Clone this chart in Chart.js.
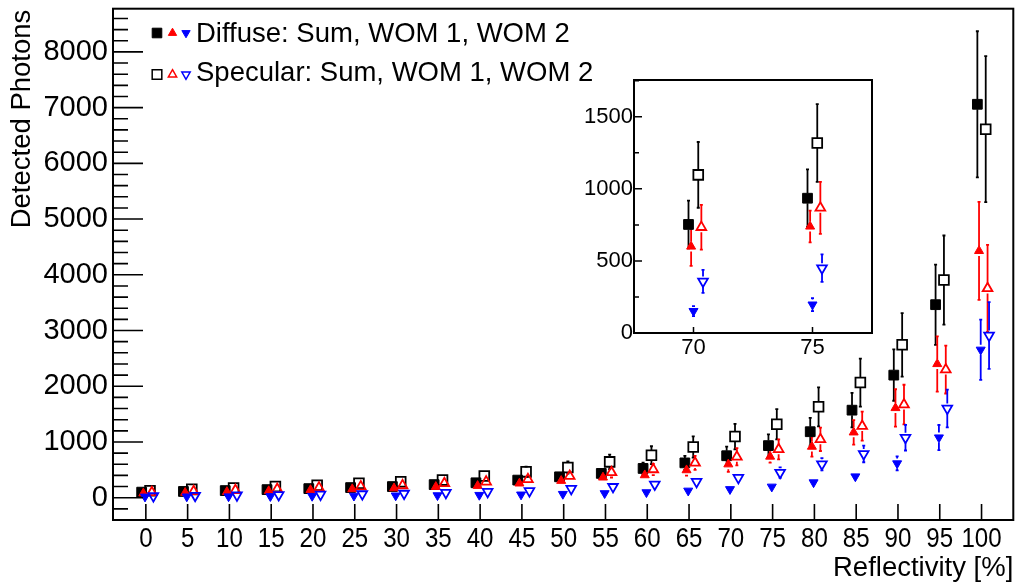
<!DOCTYPE html>
<html>
<head>
<meta charset="utf-8">
<script src="https://cdn.jsdelivr.net/npm/chart.js@4/dist/chart.umd.min.js"></script>
<style>
  html, body { margin: 0; padding: 0; background: #fff; }
  #wrap { position: relative; width: 1022px; height: 586px; overflow: hidden; }
  #main { position: absolute; left: 0; top: 0; }
  #inset { position: absolute; left: 560px; top: 70px; pointer-events: none; }
</style>
</head>
<body>
<div id="wrap">
  <canvas id="main" width="1022" height="586"></canvas>
  <canvas id="inset" width="330" height="290"></canvas>
</div>
<script>
// reflectivity in percent
const reflectivity = [0, 5, 10, 15, 20, 25, 30, 35, 40, 45, 50, 55, 60, 65, 70, 75, 80, 85, 90, 95, 100];

// diffuse reflector
const diffuseSum     = [100, 112, 128, 145, 163, 182, 200, 235, 268, 316, 375, 436, 525, 625, 753, 935, 1184, 1571, 2200, 3464, 7060];
const diffuseSumErr  = [20, 22, 26, 29, 33, 36, 40, 47, 54, 63, 75, 87, 105, 125, 165, 200, 250, 310, 460, 720, 1310];
const diffuseWom1    = [80, 90, 105, 120, 140, 155, 170, 196, 214, 257, 304, 364, 405, 495, 600, 739, 917, 1173, 1610, 2400, 4429];
const diffuseWom1Err = [16, 18, 21, 24, 28, 31, 34, 39, 43, 51, 61, 73, 81, 99, 135, 110, 180, 220, 336, 495, 880];
const diffuseWom2    = [18, 20, 22, 26, 30, 34, 38, 42, 48, 55, 66, 79, 96, 125, 152, 197, 274, 381, 615, 1080, 2655];
const diffuseWom2Err = [4, 4, 5, 5, 6, 7, 8, 8, 10, 11, 13, 16, 19, 25, 35, 45, 55, 75, 125, 225, 540];

// specular reflector
const specularSum     = [125, 150, 175, 200, 225, 260, 285, 316, 388, 464, 543, 643, 763, 911, 1097, 1318, 1631, 2066, 2744, 3905, 6613];
const specularSumErr  = [25, 30, 35, 40, 45, 52, 57, 63, 78, 93, 109, 129, 160, 190, 228, 270, 350, 430, 570, 800, 1310];
const specularWom1    = [95, 115, 135, 155, 180, 200, 220, 257, 286, 329, 388, 454, 507, 625, 734, 868, 1048, 1286, 1672, 2300, 3756];
const specularWom1Err = [19, 23, 27, 31, 36, 40, 44, 51, 57, 66, 78, 91, 101, 125, 155, 180, 210, 260, 355, 430, 780];
const specularWom2    = [30, 38, 44, 50, 58, 66, 75, 89, 107, 120, 161, 196, 239, 286, 358, 450, 601, 786, 1077, 1601, 2911];
const specularWom2Err = [6, 8, 9, 10, 12, 13, 15, 18, 21, 24, 32, 39, 48, 57, 80, 95, 110, 150, 230, 340, 600];

const xTicks = [0, 5, 10, 15, 20, 25, 30, 35, 40, 45, 50, 55, 60, 65, 70, 75, 80, 85, 90, 95, 100];
const yTicks = [0, 1000, 2000, 3000, 4000, 5000, 6000, 7000, 8000];
const insetXTicks = [70, 75];
const insetYTicks = [0, 500, 1000, 1500];
const legendLabels = ['Diffuse: Sum, WOM 1, WOM 2', 'Specular: Sum, WOM 1, WOM 2'];
const yTitle = 'Detected Photons';
const xTitle = 'Reflectivity [%]';

const FONT = '"Liberation Sans", Arial, sans-serif';

// marker looks, ROOT style
const series = [
  {name: 'diffuse sum',  y: diffuseSum,  err: diffuseSumErr,  color: '#000000', style: 'rect',     r: 6.9, rot: 0,   open: false, order: 6},
  {name: 'diffuse wom1', y: diffuseWom1, err: diffuseWom1Err, color: '#ff0000', style: 'triangle', r: 5.2, rot: 0,   open: false, order: 4},
  {name: 'diffuse wom2', y: diffuseWom2, err: diffuseWom2Err, color: '#0000ff', style: 'triangle', r: 5.2, rot: 180, open: false, order: 2},
  {name: 'specular sum', y: specularSum, err: specularSumErr, color: '#000000', style: 'rect',     r: 6.9, rot: 0,   open: true,  order: 5},
  {name: 'specular wom1',y: specularWom1,err: specularWom1Err,color: '#ff0000', style: 'triangle', r: 5.6, rot: 0,   open: true,  order: 3},
  {name: 'specular wom2',y: specularWom2,err: specularWom2Err,color: '#0000ff', style: 'triangle', r: 5.6, rot: 180, open: true,  order: 1}
];
// small horizontal shifts so the markers don't sit on top of each other
const mainShift  = [-0.5, -0.3, -0.1, 0.5, 0.72, 0.9];
const insetShift = [-0.21, -0.1, 0, 0.2, 0.33, 0.4];

function makeDatasets(shift, xmin, xmax) {
  return series.map((s, k) => ({
    label: s.name,
    data: reflectivity
      .map((r, i) => ({x: r + shift[k], y: s.y[i], e: s.err[i]}))
      .filter(p => p.x > xmin && p.x < xmax),
    pointStyle: s.style,
    pointRadius: s.r,
    pointRotation: s.rot,
    backgroundColor: s.open ? 'rgba(0,0,0,0)' : s.color,
    borderColor: s.color,
    borderWidth: s.open ? 1.8 : 1,
    showLine: false,
    order: s.order
  }));
}

// no label overhang padding, chart area is set by layout padding only
const noPad = s => { s.paddingTop = 0; s.paddingBottom = 0; s.paddingLeft = 0; s.paddingRight = 0; };

// vertical error bars, with a gap where the marker sits
const errorBars = {
  id: 'errorBars',
  beforeDatasetsDraw(chart, args, o) {
    const {ctx, chartArea: a, scales: {y}} = chart;
    ctx.save();
    ctx.beginPath();
    ctx.rect(a.left, a.top, a.width, a.height);
    ctx.clip();
    chart.data.datasets.forEach((ds, i) => {
      const meta = chart.getDatasetMeta(i);
      ctx.strokeStyle = ds.borderColor;
      ctx.lineWidth = o.width;
      meta.data.forEach((pt, j) => {
        const d = ds.data[j];
        const yt = y.getPixelForValue(d.y + d.e);
        const yb = y.getPixelForValue(d.y - d.e);
        const g = o.gap;
        ctx.beginPath();
        if (pt.y - g > yt) {
          ctx.moveTo(pt.x, yt); ctx.lineTo(pt.x, pt.y - g);
          ctx.moveTo(pt.x - o.cap, yt); ctx.lineTo(pt.x + o.cap, yt);
        }
        if (pt.y + g < yb) {
          ctx.moveTo(pt.x, pt.y + g); ctx.lineTo(pt.x, yb);
          ctx.moveTo(pt.x - o.cap, yb); ctx.lineTo(pt.x + o.cap, yb);
        }
        ctx.stroke();
      });
    });
    ctx.restore();
  }
};

// frame, inward ticks and squeezed x labels like a ROOT pad
const rootFrame = {
  id: 'rootFrame',
  beforeDraw(chart, args, o) {
    if (!o.fill) return;
    const {ctx, chartArea: a} = chart;
    ctx.save();
    ctx.fillStyle = o.fill;
    ctx.fillRect(a.left, a.top, a.width, a.height);
    ctx.restore();
  },
  afterDraw(chart, args, o) {
    const {ctx, chartArea: a, scales: {x, y}} = chart;
    ctx.save();
    ctx.strokeStyle = '#000';
    ctx.lineWidth = o.tickWidth;
    ctx.beginPath();
    const start = Math.ceil(y.min / o.yMinor) * o.yMinor;
    for (let v = start; v <= y.max; v += o.yMinor) {
      const py = y.getPixelForValue(v);
      const major = Math.abs(v / o.yMajor - Math.round(v / o.yMajor)) < 1e-6;
      const len = major ? o.yMajorLen : o.yMinorLen;
      ctx.moveTo(a.left, py);
      ctx.lineTo(a.left + len, py);
    }
    x.ticks.forEach(t => {
      const px = x.getPixelForValue(t.value);
      ctx.moveTo(px, a.bottom);
      ctx.lineTo(px, a.bottom - o.xLen);
    });
    ctx.stroke();
    ctx.lineWidth = o.frameWidth;
    ctx.strokeRect(a.left, a.top, a.width, a.height);

    if (o.xLabels) {
      ctx.fillStyle = '#000';
      ctx.font = o.xLabels.size + 'px ' + FONT;
      ctx.textAlign = 'center';
      ctx.textBaseline = 'middle';
      x.ticks.forEach(t => {
        ctx.save();
        ctx.translate(x.getPixelForValue(t.value), a.bottom + o.xLabels.dy);
        ctx.scale(o.xLabels.squeeze, 1);
        ctx.fillText(String(t.value), 0, 0);
        ctx.restore();
      });
    }
    if (o.yTitle) {
      ctx.save();
      ctx.fillStyle = '#000';
      ctx.font = o.yTitle.size + 'px ' + FONT;
      ctx.translate(o.yTitle.x, a.top + o.yTitle.dy);
      ctx.rotate(-Math.PI / 2);
      ctx.textAlign = 'right';
      ctx.textBaseline = 'middle';
      ctx.fillText(o.yTitle.text, 0, 0);
      ctx.restore();
    }
    ctx.restore();
  }
};

// three markers + one text per row
const rootLegend = {
  id: 'rootLegend',
  afterDraw(chart) {
    const ctx = chart.ctx;
    const rows = [
      {y: 33, textY: 41.5, idx: [0, 1, 2]},
      {y: 74.5, textY: 81, idx: [3, 4, 5]}
    ];
    const xs = [157, 172.5, 186];
    ctx.save();
    rows.forEach((row, n) => {
      row.idx.forEach((k, m) => {
        const s = series[k];
        ctx.fillStyle = s.open ? 'rgba(0,0,0,0)' : s.color;
        ctx.strokeStyle = s.color;
        ctx.lineWidth = s.open ? 1.5 : 1;
        const r = s.style === 'rect' ? 6.8 : 4.8;
        Chart.helpers.drawPoint(ctx, {pointStyle: s.style, radius: r, rotation: s.rot, borderWidth: ctx.lineWidth}, xs[m], row.y);
      });
      ctx.fillStyle = '#000';
      ctx.font = '27.5px ' + FONT;
      ctx.textAlign = 'left';
      ctx.textBaseline = 'alphabetic';
      ctx.fillText(legendLabels[n], 196, row.textY);
    });
    ctx.restore();
  }
};

new Chart(document.getElementById('main'), {
  type: 'scatter',
  data: {datasets: makeDatasets(mainShift, -3.93, 103.8)},
  options: {
    responsive: false,
    animation: false,
    events: [],
    layout: {padding: {left: 0, right: 5, top: 7, bottom: 0}},
    plugins: {
      legend: {display: false},
      tooltip: {enabled: false},
      errorBars: {width: 1.8, gap: 5, cap: 1.5},
      rootFrame: {
        yMinor: 200, yMajor: 1000, yMajorLen: 30, yMinorLen: 15, xLen: 16, tickWidth: 1.6, frameWidth: 2,
        xLabels: {size: 28, squeeze: 0.86, dy: 19},
        yTitle: {text: yTitle, size: 27.5, x: 22, dy: 1}
      }
    },
    scales: {
      x: {
        type: 'linear', min: -3.93, max: 103.8,
        afterBuildTicks: s => { s.ticks = xTicks.map(v => ({value: v})); },
        afterFit: s => { s.height = 66; noPad(s); },
        grid: {display: false, drawTicks: false},
        border: {display: false},
        ticks: {display: false},
        title: {display: true, text: xTitle, align: 'end', color: '#000', font: {family: FONT, size: 27.5}, padding: {top: 0, bottom: 1}}
      },
      y: {
        type: 'linear', min: -400, max: 8775,
        afterBuildTicks: s => { s.ticks = yTicks.map(v => ({value: v})); },
        afterFit: s => { s.width = 113; noPad(s); },
        grid: {display: false, drawTicks: false},
        border: {display: false},
        ticks: {font: {family: FONT, size: 29}, color: '#000', padding: 5, callback: v => String(v)}
      }
    }
  },
  plugins: [rootFrame, errorBars, rootLegend]
});

new Chart(document.getElementById('inset'), {
  type: 'scatter',
  data: {datasets: makeDatasets(insetShift, 67.5, 77.5)},
  options: {
    responsive: false,
    animation: false,
    events: [],
    layout: {padding: {left: 0, right: 18, top: 10, bottom: 0}},
    plugins: {
      legend: {display: false},
      tooltip: {enabled: false},
      errorBars: {width: 1.8, gap: 5, cap: 1.5},
      rootFrame: {fill: '#ffffff', yMinor: 250, yMajor: 500, yMajorLen: 8, yMinorLen: 5, xLen: 6, tickWidth: 1.5, frameWidth: 2}
    },
    scales: {
      x: {
        type: 'linear', min: 67.5, max: 77.5,
        afterBuildTicks: s => { s.ticks = insetXTicks.map(v => ({value: v})); },
        afterFit: s => { s.height = 27; noPad(s); },
        grid: {display: false, drawTicks: false},
        border: {display: false},
        ticks: {font: {family: FONT, size: 22}, color: '#000', padding: 2, autoSkip: false, maxRotation: 0, callback: v => String(v)},
      },
      y: {
        type: 'linear', min: 0, max: 1755,
        afterBuildTicks: s => { s.ticks = insetYTicks.map(v => ({value: v})); },
        afterFit: s => { s.width = 74; noPad(s); },
        grid: {display: false, drawTicks: false},
        border: {display: false},
        ticks: {font: {family: FONT, size: 22}, color: '#000', padding: 1, callback: v => String(v)}
      }
    }
  },
  plugins: [rootFrame, errorBars]
});
</script>
</body>
</html>
